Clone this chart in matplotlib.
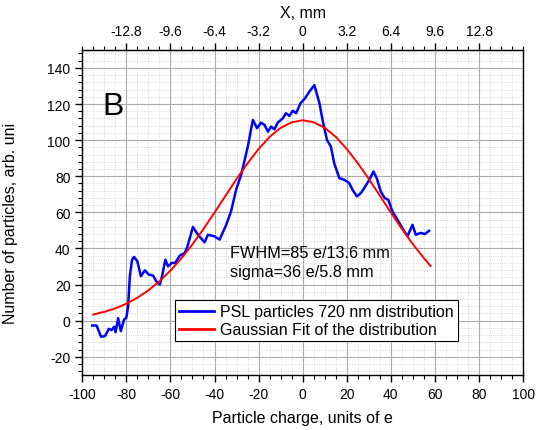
import matplotlib
matplotlib.use("Agg")
import matplotlib.pyplot as plt
from matplotlib.ticker import MultipleLocator

plt.rcParams['font.family'] = ['Liberation Sans', 'DejaVu Sans']
plt.rcParams['axes.unicode_minus'] = False

x_psl = [-95.5, -93.5, -91.5, -89.7, -87.9, -86.7, -85.5, -84.9, -83.7, -82.5,
         -81.0, -80.0, -79.2, -78.4, -77.4, -76.5, -75.0, -73.4, -71.6, -69.8,
         -67.9, -66.4, -64.8, -63.8, -62.3, -61.1, -59.3, -57.8, -55.8, -53.5,
         -52.3, -49.8, -47.5, -44.5, -43.0, -40.0, -37.7, -34.7, -32.5, -30.2,
         -27.9, -24.9, -22.6, -20.7, -18.9, -17.3, -15.8, -14.3, -12.8, -11.3,
         -9.0, -7.6, -6.0, -4.5, -3.0, -1.0, 1.0, 3.0, 5.3, 7.6,
         9.0, 11.0, 12.8, 14.3, 16.6, 18.9, 21.1, 22.6, 24.6, 26.4,
         27.9, 30.2, 32.1, 33.6, 35.4, 37.2, 38.8, 40.7, 43.0, 45.2,
         47.5, 49.8, 51.3, 53.5, 55.5, 57.3]
y_psl = [-2.7, -2.7, -8.9, -8.6, -4.5, -5.2, -3.4, -6.4, 1.4, -5.8,
         0.7, 1.6, 8.0, 24.6, 33.8, 35.3, 32.9, 24.6, 27.9, 25.5,
         25.0, 21.8, 20.0, 24.6, 33.8, 30.1, 32.0, 32.0, 36.0, 37.5,
         41.0, 51.9, 47.6, 43.4, 47.6, 46.7, 44.9, 53.1, 60.5, 72.5,
         80.8, 96.4, 111.2, 106.6, 109.7, 108.4, 104.7, 107.5, 106.0, 109.7,
         112.1, 114.9, 113.4, 116.3, 114.9, 120.4, 123.1, 126.8, 130.5, 120.4,
         111.2, 100.1, 96.4, 87.2, 79.0, 78.0, 76.2, 72.5, 68.8, 70.7,
         73.4, 78.0, 82.6, 78.9, 71.5, 67.9, 67.0, 60.5, 55.9, 51.3,
         46.7, 53.1, 47.6, 48.6, 48.0, 49.8]

# red fit curve
x_fit = [-95, -90, -85, -80, -75, -70, -65, -60, -55, -50, -45, -40, -35, -30,
         -25, -20, -15, -10, -5, 0, 5, 10, 15, 20, 25, 30, 35, 40, 45, 50, 55, 58]
y_fit = [3.4, 4.9, 6.8, 9.4, 12.7, 16.8, 21.8, 27.7, 34.6, 42.3, 50.8, 59.9,
         69.2, 78.5, 87.2, 95.1, 101.8, 106.8, 109.9, 111.0, 109.9, 106.8, 101.8,
         95.1, 87.2, 78.5, 69.2, 59.9, 50.8, 42.3, 34.6, 30.3]

mm_per_e = 0.16

fig = plt.figure(figsize=(5.41, 4.31), dpi=100)
ax = fig.add_axes([0.152, 0.128, 0.815, 0.754])

ax.plot(x_psl, y_psl, color='#0000ff', lw=1.8, label='PSL particles 720 nm distribution')
ax.plot(x_fit, y_fit, color='#ff0000', lw=1.4, label='Gaussian Fit of the distribution')

ax.set_xlim(-100, 100)
ax.set_ylim(-30, 150)
ax.xaxis.set_major_locator(MultipleLocator(20))
ax.xaxis.set_minor_locator(MultipleLocator(5))
ax.yaxis.set_major_locator(MultipleLocator(20))
ax.yaxis.set_minor_locator(MultipleLocator(4))
ax.set_yticks([-20, 0, 20, 40, 60, 80, 100, 120, 140])

ax.grid(which='major', color='#aaaaaa', lw=0.8)
ax.grid(which='minor', color='#cccccc', lw=0.6, ls=':')
ax.set_axisbelow(True)

ax.tick_params(which='major', direction='out', length=5, width=1, labelsize=10,
               right=False, top=False)
ax.tick_params(which='minor', direction='out', length=3, width=0.8,
               right=False, top=False)
for s in ax.spines.values():
    s.set_linewidth(1.0)

ax.set_xlabel('Particle charge, units of e', fontsize=11.5, labelpad=7)
ax.set_ylabel('Number of particles, arb. uni', fontsize=11.5)
ax.yaxis.set_label_coords(-0.145, 0.468)

top = ax.secondary_xaxis('top', functions=(lambda x: x * mm_per_e, lambda x: x / mm_per_e))
top.set_xticks([-12.8, -9.6, -6.4, -3.2, 0, 3.2, 6.4, 9.6, 12.8])
top.set_xticklabels(['-12.8', '-9.6', '-6.4', '-3.2', '0', '3.2', '6.4', '9.6', '12.8'])
top.xaxis.set_minor_locator(MultipleLocator(0.8))
top.tick_params(which='major', direction='out', length=5, width=1, labelsize=10)
top.tick_params(which='minor', direction='out', length=3, width=0.8)
top.set_xlabel('X, mm', fontsize=11.5, labelpad=5)

ax.text(-91, 119, 'B', fontsize=23, ha='left', va='center')
ax.text(-33, 37.5, 'FWHM=85 e/13.6 mm', fontsize=11.7, ha='left', va='center')
ax.text(-33, 27, 'sigma=36 e/5.8 mm', fontsize=11.7, ha='left', va='center')

leg = ax.legend(loc='lower left', bbox_to_anchor=(0.21, 0.103), borderaxespad=0,
                fontsize=11.5, fancybox=False, edgecolor='black', framealpha=1,
                handlelength=2.2, handletextpad=0.4, labelspacing=0.2,
                borderpad=0.25)
leg.get_frame().set_linewidth(0.8)
for ln in leg.get_lines():
    ln.set_linewidth(2)

fig.savefig('out.png', dpi=100)
